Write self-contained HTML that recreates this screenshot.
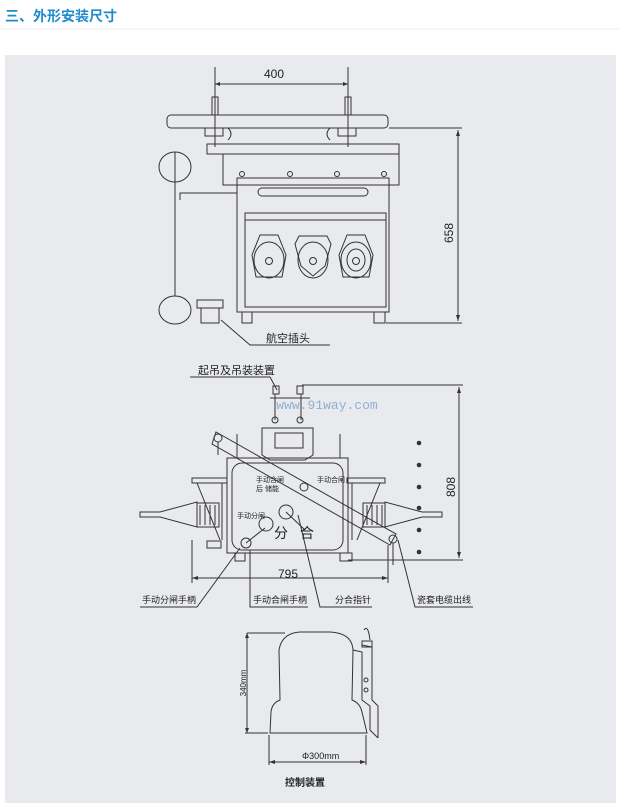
<!DOCTYPE html>
<html><head><meta charset="utf-8"><style>
html,body{margin:0;padding:0;background:#fff;}
svg{display:block;font-family:"Liberation Sans","Noto Sans CJK SC",sans-serif;}
</style></head><body>
<svg width="620" height="810" viewBox="0 0 620 810" xmlns="http://www.w3.org/2000/svg">
<text x="5" y="21" font-size="14" font-weight="bold" fill="#1e8bcc">三、外形安装尺寸</text>
<line x1="0" y1="29" x2="620" y2="29" stroke="#f0f0f0"/>
<rect x="5" y="55" width="611" height="748" fill="#e8eaed"/>
<g fill="none" stroke="#333" stroke-width="1">
<!-- TOP VIEW -->
<line x1="215" y1="67" x2="215" y2="147"/><line x1="348" y1="67" x2="348" y2="147"/>
<line x1="215" y1="84" x2="348" y2="84"/>
<rect x="212" y="97" width="6" height="18"/><rect x="345" y="97" width="6" height="18"/>
<rect x="167" y="115" width="221" height="13" rx="4"/>
<rect x="205" y="128" width="18" height="8"/><rect x="338" y="128" width="18" height="8"/>
<path d="M228 128 q6 6 0 12 M330 128 q-6 6 0 12"/>
<rect x="207" y="144" width="192" height="10"/>
<path d="M223 154 V185 H237 M399 144 V185 H389"/>
<rect x="237" y="178" width="152" height="134"/>
<line x1="237" y1="185" x2="389" y2="185"/>
<rect x="258" y="188" width="110" height="8" rx="4"/>
<circle cx="242" cy="174" r="2.5"/><circle cx="290" cy="174" r="2.5"/><circle cx="337" cy="174" r="2.5"/><circle cx="384" cy="174" r="2.5"/>
<rect x="245" y="213" width="141" height="94"/>
<line x1="245" y1="220" x2="386" y2="220"/>
<path d="M252 255 l8 -20 h18 l8 20 l-4 22 h-26 z"/>
<path d="M295 244 l4 -8 h28 l4 8 l-6 22 l-12 10 l-12 -10 z"/>
<path d="M339 255 l8 -20 h18 l8 20 l-4 22 h-26 z"/>
<ellipse cx="269" cy="260" rx="15" ry="18"/><circle cx="269" cy="261" r="3.5"/>
<ellipse cx="313" cy="260" rx="15" ry="18"/><circle cx="313" cy="261" r="3.5"/>
<ellipse cx="356" cy="260" rx="15" ry="18"/><ellipse cx="356" cy="260" rx="9" ry="11"/><circle cx="356" cy="261" r="3.5"/>
<rect x="242" y="312" width="10" height="11"/><rect x="374" y="312" width="11" height="11"/>
<line x1="389" y1="128" x2="462" y2="128"/><line x1="386" y1="323" x2="462" y2="323"/>
<line x1="458" y1="130" x2="458" y2="321"/>
<ellipse cx="175" cy="167" rx="16" ry="15"/><line x1="175" y1="152" x2="175" y2="296"/>
<ellipse cx="175" cy="310" rx="16" ry="14"/>
<path d="M180 200 V193 H237"/>
<rect x="197" y="300" width="26" height="8"/><rect x="201" y="308" width="18" height="15"/>
<path d="M221 320 L250 345 H330"/>
<!-- MIDDLE VIEW -->
<path d="M190 377 H270 L277 390"/>
<rect x="273" y="386" width="6" height="8"/><rect x="297" y="386" width="6" height="8"/>
<path d="M275 394 V420 M301 394 V420 M270 398 H310"/>
<circle cx="275" cy="420" r="3"/><circle cx="300" cy="420" r="3"/>
<path d="M262 428 H313 V455 L305 460 H270 L262 455 Z"/>
<rect x="275" y="433" width="28" height="15"/>
<line x1="302" y1="385" x2="463" y2="385"/><line x1="348" y1="560" x2="463" y2="560"/>
<line x1="459" y1="387" x2="459" y2="558"/>
<rect x="227" y="458" width="121" height="95"/>
<rect x="232" y="463" width="111" height="87" rx="10"/>
<path d="M237 434 V458 M340 434 V458"/>
<rect x="192" y="478" width="35" height="5"/><rect x="347" y="478" width="38" height="5"/>
<path d="M197 483 L220 540 M222 483 L222 540 M380 483 L357 540 M352 483 L352 540"/>
<path d="M140 512 H160 L197 502 V527 L160 517 H140 Z"/>
<path d="M197 503 h22 v24 h-22 M200 505 v20 M205 505 v20 M210 505 v20 M215 505 v20"/>
<path d="M442 512 H422 L385 502 V527 L422 517 H442 Z"/>
<path d="M385 503 h-22 v24 h22 M382 505 v20 M377 505 v20 M372 505 v20 M367 505 v20"/>
<rect x="207" y="541" width="14" height="7"/><rect x="235" y="553" width="10" height="8"/><rect x="340" y="553" width="12" height="8"/>
<path d="M216 432 L396 534 L390 545 L212 444 Z"/>
<circle cx="218" cy="438" r="4"/><circle cx="393" cy="539" r="4"/><circle cx="304" cy="487" r="4"/>
<path d="M218 442 V455 M393 543 V565"/>
<circle cx="246" cy="543" r="5"/><path d="M246 543 L265 528"/><circle cx="266" cy="524" r="7"/>
<circle cx="286" cy="512" r="7"/><path d="M286 512 L305 530"/>
<line x1="267" y1="535" x2="267" y2="545" stroke-width="0"/>
<line x1="192" y1="578" x2="388" y2="578"/>
<line x1="192" y1="540" x2="192" y2="583"/><line x1="388" y1="545" x2="388" y2="583"/>
<path d="M140 607 H197 L240 548"/>
<path d="M250 550 V607 H308"/>
<path d="M298 515 L320 607 H372"/>
<path d="M398 540 L415 607 H473"/>
<!-- BOTTOM -->
<path d="M270 733 L271 712 Q272 703 280 700 L279 650 Q282 633 300 632 H330 Q352 633 353 650 L352 700 Q360 703 362 712 L367 733 Z"/>
<path d="M353 650 L362 652 V700 L370 706 V730 L378 738 M362 645 L372 647 V700 L378 706 V738 M364 630 q4 -6 6 10 M362 647 h10 v-6 h-10z"/>
<circle cx="366" cy="680" r="2"/><circle cx="366" cy="690" r="2"/>
<line x1="247" y1="633" x2="247" y2="733"/><line x1="247" y1="633" x2="285" y2="633"/><line x1="245" y1="733" x2="268" y2="733"/>
<line x1="269" y1="735" x2="269" y2="765"/><line x1="366" y1="735" x2="366" y2="765"/>
<line x1="269" y1="762" x2="366" y2="762"/>
</g>
<g fill="#333">
<path d="M215 84 l5 -2 v4z M348 84 l-5 -2 v4z M458 130 l-2 6 h4z M458 321 l-2 -6 h4z M459 387 l-2 6 h4z M459 558 l-2 -6 h4z M192 578 l6 -2 v4z M388 578 l-6 -2 v4z M269 762 l6 -2 v4z M366 762 l-6 -2 v4z M247 633 l-2 5 h4z M247 733 l-2 -5 h4z"/>
<circle cx="419" cy="443" r="2.3"/><circle cx="419" cy="465" r="2.3"/><circle cx="419" cy="487" r="2.3"/><circle cx="419" cy="508" r="2.3"/><circle cx="419" cy="530" r="2.3"/><circle cx="419" cy="552" r="2.3"/>
</g>
<g fill="#222" font-size="12">
<text x="274" y="78" text-anchor="middle">400</text>
<text transform="translate(453,233) rotate(-90)" text-anchor="middle">658</text>
<text x="266" y="342" font-size="11">航空插头</text>
<text x="198" y="374" font-size="11">起吊及吊装装置</text>
<text transform="translate(455,487) rotate(-90)" text-anchor="middle">808</text>
<text x="288" y="578" text-anchor="middle">795</text>
<text x="142" y="603" font-size="9">手动分闸手柄</text>
<text x="253" y="603" font-size="9">手动合闸手柄</text>
<text x="335" y="603" font-size="9">分合指针</text>
<text x="417" y="603" font-size="9">瓷套电缆出线</text>
<text x="317" y="482" font-size="7">手动合闸</text>
<text x="256" y="482" font-size="7">手动合闸</text>
<text x="256" y="491" font-size="7">后 储能</text>
<text x="237" y="518" font-size="7">手动分闸</text>
<text x="274" y="538" font-size="14">分</text>
<text x="300" y="538" font-size="14">合</text>
<text transform="translate(246,683) rotate(-90)" text-anchor="middle" font-size="8">340mm</text>
<text x="302" y="759" font-size="9">Φ300mm</text>
<text x="285" y="786" font-size="10" font-weight="bold">控制装置</text>
</g>
<text x="327" y="409" text-anchor="middle" font-family="Liberation Mono,monospace" font-size="13" fill="#8fb0d2">www.91way.com</text>
</svg>
</body></html>
